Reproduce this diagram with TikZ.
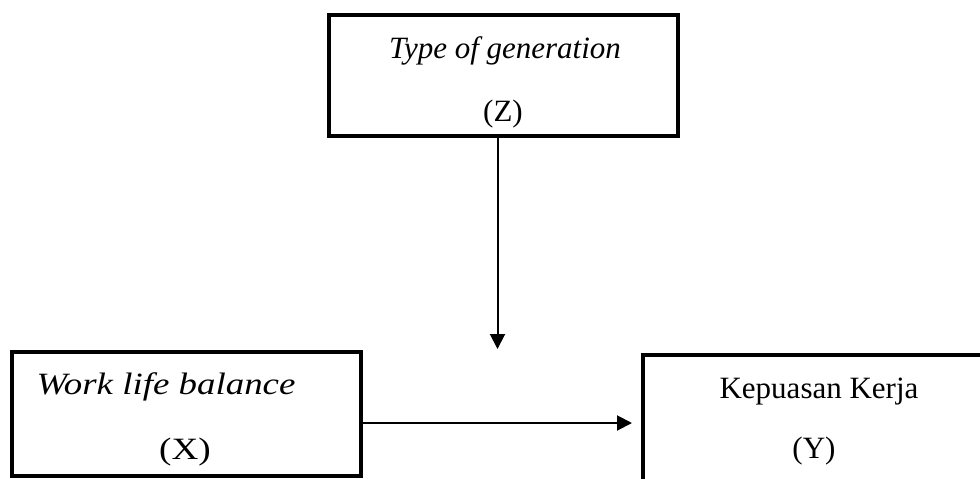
\documentclass[tikz,border=0pt]{standalone}
\usepackage{fontspec}
\setmainfont{Liberation Serif}
\usetikzlibrary{arrows.meta}
\tikzset{
  varbox/.style={draw=black, line width=4pt, rectangle, inner sep=0pt},
  lbl/.style={anchor=base, inner sep=0pt, font=\fontsize{31}{37}\selectfont},
  conn/.style={line width=2pt, -{Triangle[length=15pt,width=15pt]}}
}
\begin{document}
\begin{tikzpicture}[x=1pt,y=-1pt]
\useasboundingbox (0,0) rectangle (980,479);
% boxes
\node[varbox, minimum width=349pt, minimum height=121pt] (Z) at (503.5,75.5) {};
\node[varbox, minimum width=349pt, minimum height=124pt] (X) at (186.5,414) {};
\node[varbox, minimum width=349pt, minimum height=130pt] (Y) at (817.5,420) {};
% labels
\node[lbl] (zt) at (505,58) {\itshape Type of generation};
\node[lbl] (zv) at (503,121) {(Z)};
\node[lbl] (xt) at (166,394) {\scalebox{1.19}[1]{\itshape Work life balance}};
\node[lbl] (xv) at (185,459) {\scalebox{1.2}[1]{(X)}};
\node[lbl] (yt) at (819,398) {Kepuasan Kerja};
\node[lbl] (yv) at (814,458) {(Y)};
% connectors
\coordinate (m) at (497.5,349);
\coordinate (h) at (0,423);
\draw[conn] (Z.south -| m) -- (m);
\draw[conn, shorten >=9pt] (X.east |- h) -- (Y.west |- h);
\end{tikzpicture}
\end{document}
